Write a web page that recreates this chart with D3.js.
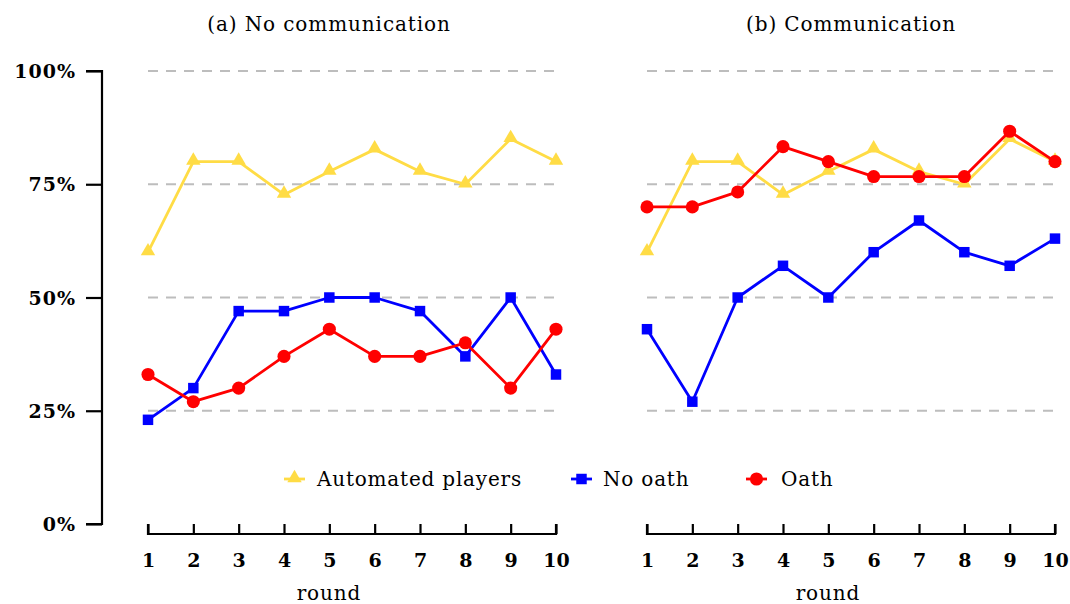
<!DOCTYPE html>
<html><head><meta charset="utf-8">
<script src="https://cdn.jsdelivr.net/npm/d3@7"></script>
<style>body{margin:0;background:#fff}svg{display:block}</style>
</head><body>
<script>
const rounds = [1,2,3,4,5,6,7,8,9,10];
const yTicks = [0,25,50,75,100];
const gridTicks = [25,50,75,100];
const panelTitles = ["(a) No communication", "(b) Communication"];
const xLabel = "round";
const automated = [60,80,80,72.7,77.8,82.7,77.8,75,85,80];
const noOathA = [23,30,47,47,50,50,47,37,50,33];
const oathA   = [33,27,30,37,43,37,37,40,30,43];
const noOathB = [43,27,50,57,50,60,67,60,57,63];
const oathB   = [70,70,73.3,83.3,80,76.7,76.7,76.7,86.7,80];
const seriesNames = ["Automated players","No oath","Oath"];

const W=1070,H=604;
const svg=d3.select("body").append("svg").attr("width",W).attr("height",H);
const font="'DejaVu Serif', serif";
const colors={auto:"#FFDC45",no:"#0000FF",oath:"#FF0000"};

const y=d3.scaleLinear().domain([0,100]).range([524,71]);
const panels=[
  {x:d3.scaleLinear().domain([1,10]).range([148,556]), title:panelTitles[0], tx:329, lx:329, data:[automated,noOathA,oathA]},
  {x:d3.scaleLinear().domain([1,10]).range([647,1055]), title:panelTitles[1], tx:851, lx:828, data:[automated,noOathB,oathB]}
];

// y axis
const yAxis=svg.append("g").attr("transform","translate(102,0)")
  .call(d3.axisLeft(y).tickValues(yTicks).tickSize(16).tickFormat(d=>d+"%"));
yAxis.select(".domain").attr("stroke","#000").attr("stroke-width",2.2).attr("d","M-16,524H0V71H-16");
yAxis.selectAll(".tick line").attr("stroke-width",2.2);
yAxis.selectAll(".tick text").attr("font-family",font).attr("font-weight","bold").attr("font-size",19)
  .attr("letter-spacing","1px").attr("fill","#000").attr("x",-26).attr("dy","0.35em");

const symTri=d3.symbol().type(d3.symbolTriangle).size(90);
const symSq=d3.symbol().type(d3.symbolSquare).size(110);
const symCi=d3.symbol().type(d3.symbolCircle).size(135);
const styles=[{c:colors.auto,s:symTri,dy:-1},{c:colors.no,s:symSq,dy:0},{c:colors.oath,s:symCi,dy:0}];

panels.forEach((p,pi)=>{
  const g=svg.append("g");
  // grid
  g.selectAll("line.grid").data(gridTicks).enter().append("line")
    .attr("x1",p.x(1)).attr("x2",p.x(10)).attr("y1",d=>y(d)).attr("y2",d=>y(d))
    .attr("stroke","#bdbdbd").attr("stroke-width",2).attr("stroke-dasharray","10,8");
  // x axis
  const xa=g.append("g").attr("transform","translate(0,534)")
    .call(d3.axisBottom(p.x).tickValues(rounds).tickSize(-10).tickFormat(d3.format("d")));
  xa.select(".domain").attr("d",`M${p.x(1)},-10V0H${p.x(10)}V-10`).attr("stroke-width",2.2).attr("fill","none");
  xa.selectAll(".tick line").attr("stroke-width",2.2);
  xa.selectAll(".tick text").attr("font-family",font).attr("font-weight","bold").attr("font-size",19).attr("fill","#000").attr("y",26).attr("dy","0.35em");
  g.append("text").attr("x",p.lx).attr("y",600).attr("text-anchor","middle")
    .attr("font-family",font).attr("font-size",20).attr("letter-spacing","0.9px").text(xLabel);
  g.append("text").attr("x",p.tx).attr("y",31).attr("text-anchor","middle")
    .attr("font-family",font).attr("font-size",20).attr("letter-spacing","0.9px").text(p.title);
  // series
  p.data.forEach((vals,si)=>{
    const st=styles[si];
    const line=d3.line().x((d,i)=>p.x(rounds[i])).y(d=>y(d));
    g.append("path").attr("d",line(vals)).attr("fill","none").attr("stroke",st.c).attr("stroke-width",2.8).attr("stroke-linejoin","round");
    g.selectAll(null).data(vals).enter().append("path")
      .attr("d",st.s).attr("fill",st.c)
      .attr("transform",(d,i)=>`translate(${p.x(rounds[i])},${y(d)+st.dy})`);
  });
});

// legend
const leg=[{x:284,tx:317},{x:571,tx:603},{x:746,tx:781}];
leg.forEach((l,i)=>{
  const st=styles[i];
  const lg=svg.append("g");
  lg.append("line").attr("x1",l.x).attr("x2",l.x+21).attr("y1",479).attr("y2",479).attr("stroke",st.c).attr("stroke-width",2.8);
  lg.append("path").attr("d",st.s).attr("fill",st.c).attr("transform",`translate(${l.x+10.5},${479+st.dy})`);
  lg.append("text").attr("x",l.tx).attr("y",479).attr("dy","0.35em").attr("font-family",font).attr("font-size",20)
    .attr("letter-spacing","0.8px").text(seriesNames[i]);
});
</script>
</body></html>
